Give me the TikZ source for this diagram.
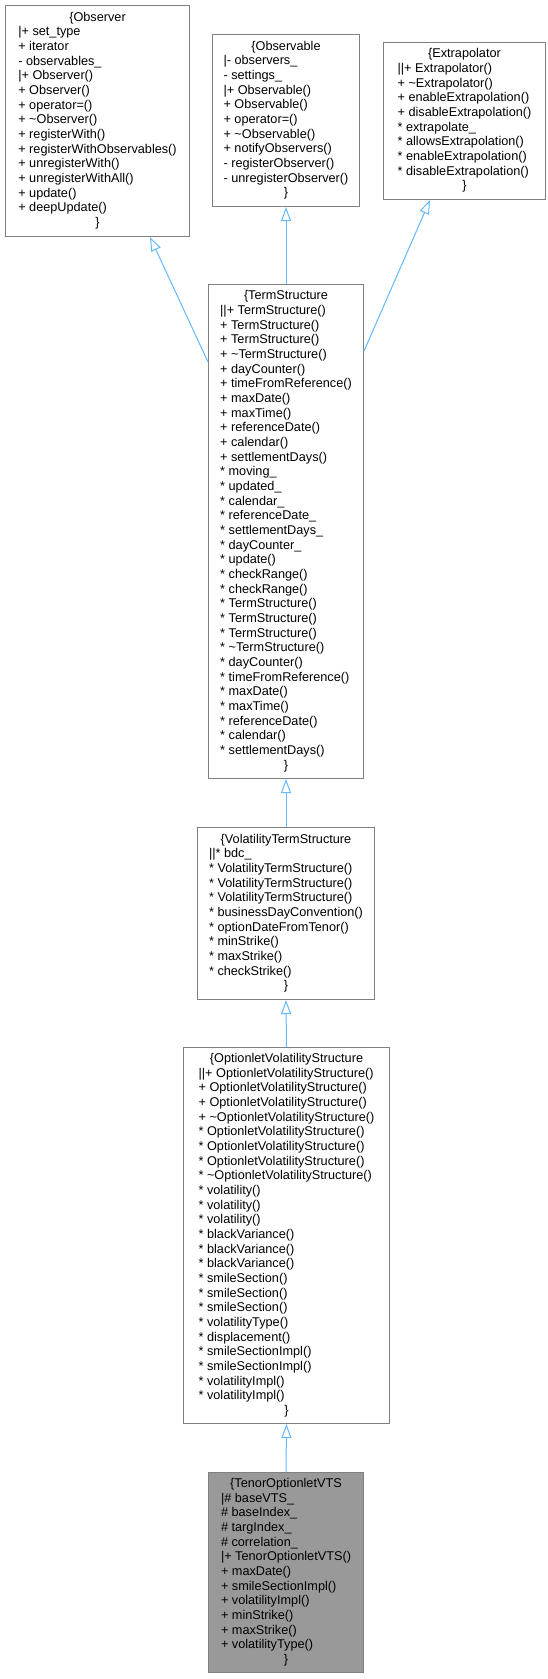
\documentclass[tikz,border=0pt]{standalone}
\usepackage{xcolor}
\usepackage{fontspec}
\setmainfont{Liberation Sans}
\usepackage{tikz}
\usetikzlibrary{arrows.meta,calc,positioning}

\definecolor{inherit}{HTML}{63B8FF}
\definecolor{boxgray}{HTML}{808080}
\definecolor{focusgray}{HTML}{999999}
\newcommand{\midline}[1]{\multicolumn{1}{@{}c@{}}{#1}}
\newcommand{\tld}{\textasciitilde}

\tikzset{
  cls/.style={draw=boxgray, line width=1pt, fill=white, inner sep=0pt,
    anchor=north west, font=\fontsize{12.7}{14.67}\selectfont},
  clsfocus/.style={cls, fill=focusgray},
  isa/.style={draw=inherit, line width=1pt, -{Triangle[open,length=14pt,width=10pt]}}
}

\begin{document}
\begin{tikzpicture}[x=1pt,y=-1pt]
    \useasboundingbox (0,0) rectangle (548,1679);
    % base classes
    \node[cls, minimum width=184pt, minimum height=231pt] (observer) at (5,5) {%
      \begin{tabular}{@{}l@{}}
        \midline{\{Observer}\\
        |+ set\_type\\
        + iterator\\
        - observables\_\\
        |+ Observer()\\
        + Observer()\\
        + operator=()\\
        + \tld Observer()\\
        + registerWith()\\
        + registerWithObservables()\\
        + unregisterWith()\\
        + unregisterWithAll()\\
        + update()\\
        + deepUpdate()\\
        \midline{\}}
      \end{tabular}};
    \node[cls, minimum width=147pt, minimum height=172pt] (observable) at (212,34) {%
      \begin{tabular}{@{}l@{}}
        \midline{\{Observable}\\
        |- observers\_\\
        - settings\_\\
        |+ Observable()\\
        + Observable()\\
        + operator=()\\
        + \tld Observable()\\
        + notifyObservers()\\
        - registerObserver()\\
        - unregisterObserver()\\
        \midline{\}}
      \end{tabular}};
    \node[cls, minimum width=162pt, minimum height=157pt] (extrap) at (383,42) {%
      \begin{tabular}{@{}l@{}}
        \midline{\{Extrapolator}\\
        ||+ Extrapolator()\\
        + \tld Extrapolator()\\
        + enableExtrapolation()\\
        + disableExtrapolation()\\
        {*} extrapolate\_\\
        {*} allowsExtrapolation()\\
        {*} enableExtrapolation()\\
        {*} disableExtrapolation()\\
        \midline{\}}
      \end{tabular}};
    % term structure
    \node[cls, minimum width=155pt, minimum height=494pt] (term) at (208,284) {%
      \begin{tabular}{@{}l@{}}
        \midline{\{TermStructure}\\
        ||+ TermStructure()\\
        + TermStructure()\\
        + TermStructure()\\
        + \tld TermStructure()\\
        + dayCounter()\\
        + timeFromReference()\\
        + maxDate()\\
        + maxTime()\\
        + referenceDate()\\
        + calendar()\\
        + settlementDays()\\
        {*} moving\_\\
        {*} updated\_\\
        {*} calendar\_\\
        {*} referenceDate\_\\
        {*} settlementDays\_\\
        {*} dayCounter\_\\
        {*} update()\\
        {*} checkRange()\\
        {*} checkRange()\\
        {*} TermStructure()\\
        {*} TermStructure()\\
        {*} TermStructure()\\
        {*} \tld TermStructure()\\
        {*} dayCounter()\\
        {*} timeFromReference()\\
        {*} maxDate()\\
        {*} maxTime()\\
        {*} referenceDate()\\
        {*} calendar()\\
        {*} settlementDays()\\
        \midline{\}}
      \end{tabular}};
    \node[cls, minimum width=177pt, minimum height=172pt] (vts) at (197,827) {%
      \begin{tabular}{@{}l@{}}
        \midline{\{VolatilityTermStructure}\\
        ||{*} bdc\_\\
        {*} VolatilityTermStructure()\\
        {*} VolatilityTermStructure()\\
        {*} VolatilityTermStructure()\\
        {*} businessDayConvention()\\
        {*} optionDateFromTenor()\\
        {*} minStrike()\\
        {*} maxStrike()\\
        {*} checkStrike()\\
        \midline{\}}
      \end{tabular}};
    \node[cls, minimum width=206pt, minimum height=376pt] (ovs) at (183,1047) {%
      \begin{tabular}{@{}l@{}}
        \midline{\{OptionletVolatilityStructure}\\
        ||+ OptionletVolatilityStructure()\\
        + OptionletVolatilityStructure()\\
        + OptionletVolatilityStructure()\\
        + \tld OptionletVolatilityStructure()\\
        {*} OptionletVolatilityStructure()\\
        {*} OptionletVolatilityStructure()\\
        {*} OptionletVolatilityStructure()\\
        {*} \tld OptionletVolatilityStructure()\\
        {*} volatility()\\
        {*} volatility()\\
        {*} volatility()\\
        {*} blackVariance()\\
        {*} blackVariance()\\
        {*} blackVariance()\\
        {*} smileSection()\\
        {*} smileSection()\\
        {*} smileSection()\\
        {*} volatilityType()\\
        {*} displacement()\\
        {*} smileSectionImpl()\\
        {*} smileSectionImpl()\\
        {*} volatilityImpl()\\
        {*} volatilityImpl()\\
        \midline{\}}
      \end{tabular}};
    \node[clsfocus, minimum width=155pt, minimum height=200pt] (tenor) at (208,1472) {%
      \begin{tabular}{@{}l@{}}
        \midline{\{TenorOptionletVTS}\\
        |\# baseVTS\_\\
        \# baseIndex\_\\
        \# targIndex\_\\
        \# correlation\_\\
        |+ TenorOptionletVTS()\\
        + maxDate()\\
        + smileSectionImpl()\\
        + volatilityImpl()\\
        + minStrike()\\
        + maxStrike()\\
        + volatilityType()\\
        \midline{\}}
      \end{tabular}};
    % inheritance
    \draw[isa] ($(term.north west)+(0,78)$) -- ($(observer.south west)+(145,0)$);
    \draw[isa] (term.north) -- (observable.south);
    \draw[isa] ($(term.north east)+(0,67)$) -- ($(extrap.south west)+(47,0)$);
    \draw[isa] (vts.north) -- (term.south);
    \draw[isa] (ovs.north) -- (vts.south);
    \draw[isa] (tenor.north) -- (ovs.south);
  \end{tikzpicture}
\end{document}
